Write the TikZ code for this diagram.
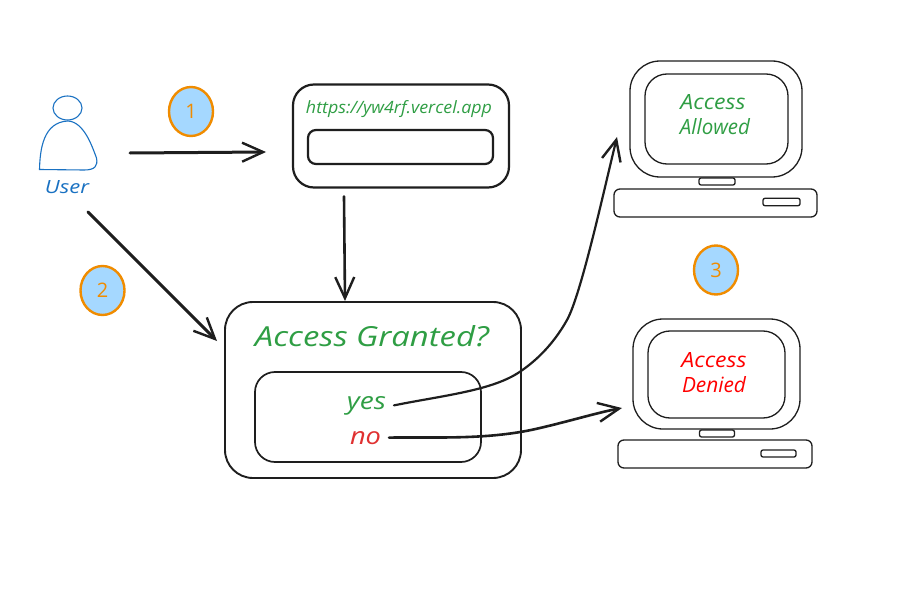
\documentclass[tikz,border=0pt]{standalone}
\usepackage{fontspec}
\setmainfont{Open Sans}
\usetikzlibrary{arrows.meta,shapes.geometric}
\definecolor{ink}{HTML}{1E1E1E}
\definecolor{sgreen}{HTML}{2F9E44}
\definecolor{sred}{HTML}{E03131}
\definecolor{sblue}{HTML}{1971C2}
\definecolor{sorange}{HTML}{F08C00}
\definecolor{sfill}{HTML}{A5D8FF}
\newcommand{\fitted}[3]{\resizebox{#1pt}{#2pt}{\itshape #3}}
\tikzset{
  x=1pt,y=-1pt,
  box/.style={draw=ink,line width=#1,inner sep=0pt,outer sep=0pt},
  box/.default=1.3pt,
  wired/.style={draw=ink,line width=#1,line cap=round,-{Straight Barb[length=21pt,width=19pt,line width=2.4pt]}},
  wired/.default=2.6pt,
  badge/.style={ellipse,draw=sorange,fill=sfill,line width=2.4pt,minimum width=44pt,minimum height=49pt,inner sep=0pt,text=sorange,font=\fontsize{20}{20}\selectfont},
  lbl/.style={inner sep=0pt,outer sep=0pt}
}
\begin{document}
\begin{tikzpicture}
\useasboundingbox (0,0) rectangle (898,610);
\fill[white] (0,0) rectangle (898,610);
% user
\node[minimum width=58pt,minimum height=75pt,inner sep=0pt,outer sep=0pt] (userfig) at (68,133) {};
\node[ellipse,draw=sblue,line width=1.1pt,minimum width=29pt,minimum height=24pt,inner sep=0pt] (userhead) at (67.5,108) {};
\draw[sblue,line width=1.1pt] (39.5,169.5) .. controls (40,150) and (43,122) .. (68,121)
  .. controls (84,122) and (92,146) .. (96.5,158) .. controls (98,166) and (95,170) .. (84,170) -- cycle;
\node[lbl,text=sblue] (userlbl) at (67,187) {\fitted{44}{13}{User}};
% badges
\node[badge] (b1) at (191,111.5) {1};
\node[badge] (b2) at (102.5,290.5) {2};
\node[badge] (b3) at (716,270) {3};
% url box
\node[box=2.2pt,rounded corners=21pt,minimum width=216pt,minimum height=103pt] (url) at (401,136) {};
\node[box=2.2pt,rounded corners=8pt,minimum width=185pt,minimum height=34pt] (field) at (400.5,147) {};
\node[lbl,text=sgreen] (urltext) at (399,109) {\fitted{186}{13}{https://yw4rf.vercel.app}};
% granted box
\node[box=1.9pt,rounded corners=28pt,minimum width=296pt,minimum height=176pt] (granted) at (373,390) {};
\node[box=1.7pt,rounded corners=20pt,minimum width=226pt,minimum height=90pt] (choice) at (368,417) {};
\node[lbl,text=sgreen] (gtext) at (372,336) {\fitted{234}{21}{Access Granted?}};
\node[lbl,text=sgreen,anchor=base] (yes) at (366.5,409) {\fitted{39}{13}{yes}};
\node[lbl,text=sred,anchor=base] (no) at (365.5,444) {\fitted{31}{13}{no}};
% monitor allowed
\node[box,rounded corners=30pt,minimum width=172pt,minimum height=116pt] (mon1) at (716,119) {};
\node[box,rounded corners=22pt,minimum width=143pt,minimum height=90pt] (scr1) at (716.5,119) {};
\node[box,rounded corners=2pt,minimum width=36pt,minimum height=7pt] (neck1) at (717,181.5) {};
\node[box,rounded corners=6pt,minimum width=203pt,minimum height=28pt] (base1) at (715.5,203) {};
\node[box,rounded corners=2pt,minimum width=37pt,minimum height=7.5pt] (slot1) at (781.5,202) {};
\node[lbl,text=sgreen] (a1) at (713,102) {\fitted{65}{15}{Access}};
\node[lbl,text=sgreen] (a2) at (715,127) {\fitted{70}{16}{Allowed}};
% monitor denied
\node[box,rounded corners=30pt,minimum width=167pt,minimum height=110pt] (mon2) at (716.5,374) {};
\node[box,rounded corners=22pt,minimum width=137pt,minimum height=87pt] (scr2) at (716.5,374.5) {};
\node[box,rounded corners=2pt,minimum width=35pt,minimum height=7pt] (neck2) at (717,433.5) {};
\node[box,rounded corners=6pt,minimum width=194pt,minimum height=28pt] (base2) at (715,454) {};
\node[box,rounded corners=2pt,minimum width=35pt,minimum height=7pt] (slot2) at (778.5,453.5) {};
\node[lbl,text=red] (d1) at (714,360) {\fitted{65}{15}{Access}};
\node[lbl,text=red] (d2) at (714,385) {\fitted{64}{16}{Denied}};
% connectors
\draw[wired=3pt] ([xshift=33pt,yshift=-20pt]userfig.east) -- ([xshift=-27pt,yshift=-16pt]url.west);
\draw[wired=3pt] ([xshift=21pt,yshift=-25pt]userlbl.center) -- ([xshift=-8pt,yshift=49pt]granted.west);
\draw[wired] ([xshift=-57pt,yshift=-9pt]url.south) -- ([xshift=-28pt,yshift=1pt]granted.north);
\draw[wired=2.2pt] ([xshift=8pt]yes.east) .. controls (440,396) and (490,391) .. (518,373) .. controls (535,362) and (553,345) .. (567,320) .. controls (581,295) and (604,190) .. ([xshift=-13pt,yshift=-18pt]mon1.west);
\draw[wired=2.6pt] ([xshift=8pt]no.east) .. controls (440,437) and (490,440) .. (540,428) .. controls (570,421) and (600,412) .. ([xshift=-11pt,yshift=-34pt]mon2.west);
\end{tikzpicture}
\end{document}
